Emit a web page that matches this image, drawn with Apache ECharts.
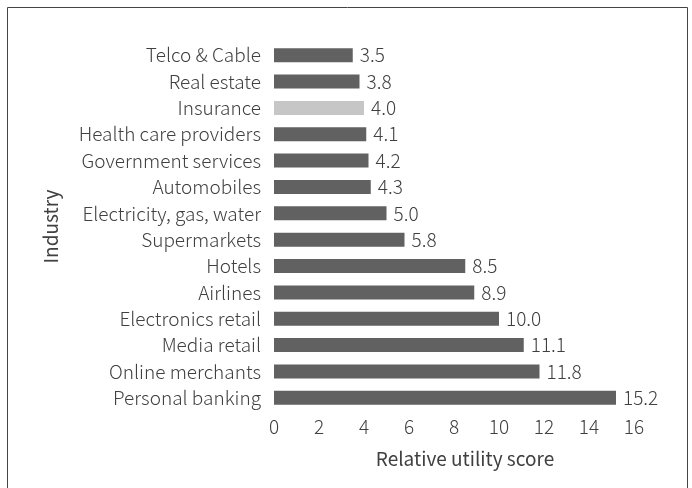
<!DOCTYPE html>
<html>
<head>
<meta charset="utf-8">
<script src="https://cdn.jsdelivr.net/npm/echarts@6/dist/echarts.min.js"></script>
<style>
html,body{margin:0;padding:0;background:#fff;}
#chart{width:692px;height:488px;}
</style>
</head>
<body>
<div id="chart"></div>
<script>
const categories = ["Personal banking","Online merchants","Media retail","Electronics retail","Airlines","Hotels","Supermarkets","Electricity, gas, water","Automobiles","Government services","Health care providers","Insurance","Real estate","Telco & Cable"];
const values = [15.2, 11.8, 11.1, 10.0, 8.9, 8.5, 5.8, 5.0, 4.3, 4.2, 4.1, 4.0, 3.8, 3.5];
const highlighted = ["Insurance"];
const xTicks = {min: 0, max: 16, interval: 2};

const FONT = "'Noto Sans CJK JP', 'Source Sans Pro', 'Noto Sans', sans-serif";
const TXT = '#404040';
const FS = 19;
const chart = echarts.init(document.getElementById('chart'), null, {renderer: 'canvas'});
chart.setOption({
  animation: false,
  textStyle: {fontFamily: FONT, fontWeight: 300},
  graphic: [{
    type: 'rect', z: -1, silent: true,
    shape: {x: 7.5, y: 7.5, width: 680, height: 500},
    style: {fill: '#fff', stroke: '#444', lineWidth: 1}
  }],
  grid: {left: 274, right: 58, top: 42, bottom: 77, containLabel: false},
  xAxis: {
    type: 'value', min: xTicks.min, max: xTicks.max, interval: xTicks.interval,
    name: 'Relative utility score', nameLocation: 'middle', nameGap: 38,
    nameTextStyle: {fontSize: FS, color: TXT, fontFamily: FONT, fontWeight: 400, padding: [0, 0, 0, 22]},
    axisLine: {show: false}, axisTick: {show: false}, splitLine: {show: false},
    axisLabel: {fontSize: FS, color: TXT, fontFamily: FONT, fontWeight: 300, margin: 6}
  },
  yAxis: {
    type: 'category', data: categories,
    name: 'Industry', nameLocation: 'middle', nameGap: 214, nameRotate: 90,
    nameTextStyle: {fontSize: FS, color: TXT, fontFamily: FONT, fontWeight: 400},
    axisLine: {show: false}, axisTick: {show: false}, splitLine: {show: false},
    axisLabel: {fontSize: FS, color: TXT, fontFamily: FONT, fontWeight: 300, margin: 13}
  },
  series: [{
    type: 'bar',
    data: values.map((v, i) => ({
      value: v,
      itemStyle: {color: highlighted.includes(categories[i]) ? '#c6c6c6' : '#616161'}
    })),
    barWidth: 14,
    label: {
      show: true, position: 'right', distance: 7,
      formatter: p => p.value.toFixed(1),
      fontSize: FS, color: TXT, fontFamily: FONT, fontWeight: 300
    }
  }]
});
</script>
</body>
</html>
